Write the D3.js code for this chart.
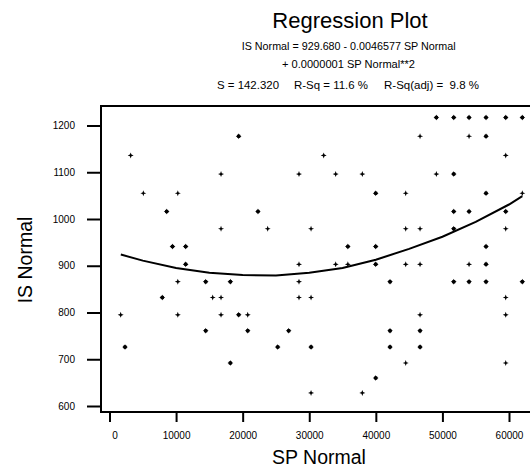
<!DOCTYPE html>
<html>
<head>
<meta charset="utf-8">
<script src="https://cdn.jsdelivr.net/npm/d3@7"></script>
<style>
  body { margin: 0; background: #fff; }
  text { font-family: "Liberation Sans", Arial, sans-serif; fill: #000; }
</style>
</head>
<body>
<div id="dataviz"></div>
<script>
// SP Normal, IS Normal, and whether the glyph looks heavy (overlapping points)
var spNormal = [49090, 51700, 54000, 56550, 59510, 62000,
    19400, 46640, 54000, 56550,
    3180, 32170, 59510,
    16750, 28460, 33970, 37970, 49090, 51700,
    5080, 10260, 39980, 44490, 56550, 62000,
    8590, 22300, 51700, 54000, 59510,
    16750, 23760, 30270, 44490, 46640, 51700, 59510,
    9460, 11440, 35800, 39980, 56550,
    11440, 28460, 33970, 35800, 39980, 44490, 46640, 54000, 56550,
    10260, 14450, 18150, 28460, 42130, 51700, 54000, 56550, 62000,
    7930, 15500, 16750, 28460, 30270, 59510,
    1680, 10260, 16750, 19400, 20760, 46640, 59510,
    14450, 20760, 26910, 42130, 46640,
    2330, 25260, 30270, 42130, 46640,
    18150, 44490, 59510,
    39980,
    30270, 37970];
var isNormal = [1217, 1217, 1217, 1217, 1217, 1217,
    1177, 1177, 1177, 1177,
    1136, 1136, 1136,
    1096, 1096, 1096, 1096, 1096, 1096,
    1055, 1055, 1055, 1055, 1055, 1055,
    1016, 1016, 1016, 1016, 1016,
    979, 979, 979, 979, 979, 979, 979,
    941, 941, 941, 941, 941,
    903, 903, 903, 903, 903, 903, 903, 903, 903,
    866, 866, 866, 866, 866, 866, 866, 866, 866,
    832, 832, 832, 832, 832, 832,
    795, 795, 795, 795, 795, 795, 795,
    761, 761, 761, 761, 761,
    726, 726, 726, 726, 726,
    692, 692, 692,
    660,
    628, 628];
var heavy = [1, 1, 1, 1, 1, 1,
    1, 0, 0, 1,
    0, 0, 0,
    0, 0, 0, 0, 0, 1,
    0, 0, 1, 0, 1, 0,
    1, 1, 1, 1, 1,
    0, 0, 0, 0, 0, 1, 0,
    1, 1, 1, 1, 1,
    1, 0, 0, 0, 1, 0, 0, 0, 1,
    0, 1, 1, 0, 1, 1, 1, 1, 1,
    1, 0, 0, 0, 0, 0,
    0, 0, 0, 1, 0, 0, 0,
    1, 1, 1, 1, 1,
    1, 1, 1, 1, 1,
    1, 0, 0,
    1,
    0, 0];

// fitted curve
var fitX = [1700, 5000, 10000, 15000, 20000, 25000, 30000, 35000, 40000, 45000, 50000, 55000, 60000, 62000];
var fitY = [924, 911, 895, 885, 880, 879, 885, 895, 913, 936, 962, 994, 1031, 1049];

var xTicks = [0, 10000, 20000, 30000, 40000, 50000, 60000];
var yTicks = [600, 700, 800, 900, 1000, 1100, 1200];

var width = 530, height = 468;

var svg = d3.select("#dataviz")
    .append("svg")
    .attr("width", width)
    .attr("height", height);

var x = d3.scaleLinear()
    .domain([0, 60000])
    .range([109.5, 509]);

var y = d3.scaleLinear()
    .domain([600, 1200])
    .range([406, 125.5]);

var frame = { left: 101, top: 106, right: 540, bottom: 412 };

svg.append("rect")
    .attr("x", frame.left)
    .attr("y", frame.top)
    .attr("width", frame.right - frame.left)
    .attr("height", frame.bottom - frame.top)
    .attr("fill", "none")
    .attr("stroke", "#000")
    .attr("stroke-width", 2);

var xAxis = svg.append("g")
    .attr("transform", "translate(0," + frame.bottom + ")")
    .call(d3.axisBottom(x).tickValues(xTicks).tickFormat(d3.format("d")).tickSize(10).tickPadding(10));

var yAxis = svg.append("g")
    .attr("transform", "translate(" + frame.left + ",0)")
    .call(d3.axisLeft(y).tickValues(yTicks).tickFormat(d3.format("d")).tickSize(14).tickPadding(12));

[xAxis, yAxis].forEach(function(a) {
    a.select(".domain").remove();
    a.selectAll(".tick line").attr("stroke", "#000").attr("stroke-width", 2);
    a.selectAll(".tick text")
        .style("font-family", "'Liberation Sans', Arial, sans-serif")
        .style("font-size", "10px")
        .attr("fill", "#000");
});

// the 0 label sits a little right of its tick in the original
xAxis.selectAll(".tick text").filter(function(d) { return d === 0; }).attr("dx", 5);

var line = d3.line()
    .x(function(d) { return x(d[0]); })
    .y(function(d) { return y(d[1]); });

svg.append("path")
    .datum(d3.zip(fitX, fitY))
    .attr("d", line)
    .attr("fill", "none")
    .attr("stroke", "#000")
    .attr("stroke-width", 2);

var star = "M0,-3L0.8,-0.8L3,0L0.8,0.8L0,3L-0.8,0.8L-3,0L-0.8,-0.8Z";

var pts = svg.append("g")
    .selectAll("g")
    .data(d3.range(spNormal.length))
    .enter()
    .append("g")
    .attr("transform", function(i) { return "translate(" + x(spNormal[i]) + "," + y(isNormal[i]) + ")"; });

pts.append("path")
    .attr("d", star)
    .attr("fill", "#000");

pts.filter(function(i) { return heavy[i]; })
    .append("circle")
    .attr("r", 2)
    .attr("fill", "#000");

// titles
svg.append("text")
    .attr("x", 350)
    .attr("y", 28)
    .attr("text-anchor", "middle")
    .style("font-size", "22px")
    .text("Regression Plot");

svg.append("text")
    .attr("x", 241.7)
    .attr("y", 50)
    .attr("textLength", 214)
    .attr("lengthAdjust", "spacingAndGlyphs")
    .style("font-size", "10.5px")
    .text("IS Normal = 929.680 - 0.0046577 SP Normal");

svg.append("text")
    .attr("x", 282)
    .attr("y", 68)
    .attr("textLength", 133)
    .attr("lengthAdjust", "spacingAndGlyphs")
    .style("font-size", "10.5px")
    .text("+ 0.0000001 SP Normal**2");

var stats = [["S = 142.320", 217, 62], ["R-Sq = 11.6 %", 294, 74], ["R-Sq(adj) =  9.8 %", 384, 95]];
svg.selectAll(".stat")
    .data(stats)
    .enter()
    .append("text")
    .attr("class", "stat")
    .attr("x", function(d) { return d[1]; })
    .attr("y", 89)
    .attr("textLength", function(d) { return d[2]; })
    .attr("lengthAdjust", "spacingAndGlyphs")
    .style("font-size", "10.5px")
    .style("white-space", "pre")
    .text(function(d) { return d[0]; });

svg.append("text")
    .attr("x", 319)
    .attr("y", 464)
    .attr("text-anchor", "middle")
    .style("font-size", "19.5px")
    .text("SP Normal");

svg.append("text")
    .attr("transform", "translate(31.7,260) rotate(-90)")
    .attr("text-anchor", "middle")
    .style("font-size", "19.5px")
    .text("IS Normal");
</script>
</body>
</html>
